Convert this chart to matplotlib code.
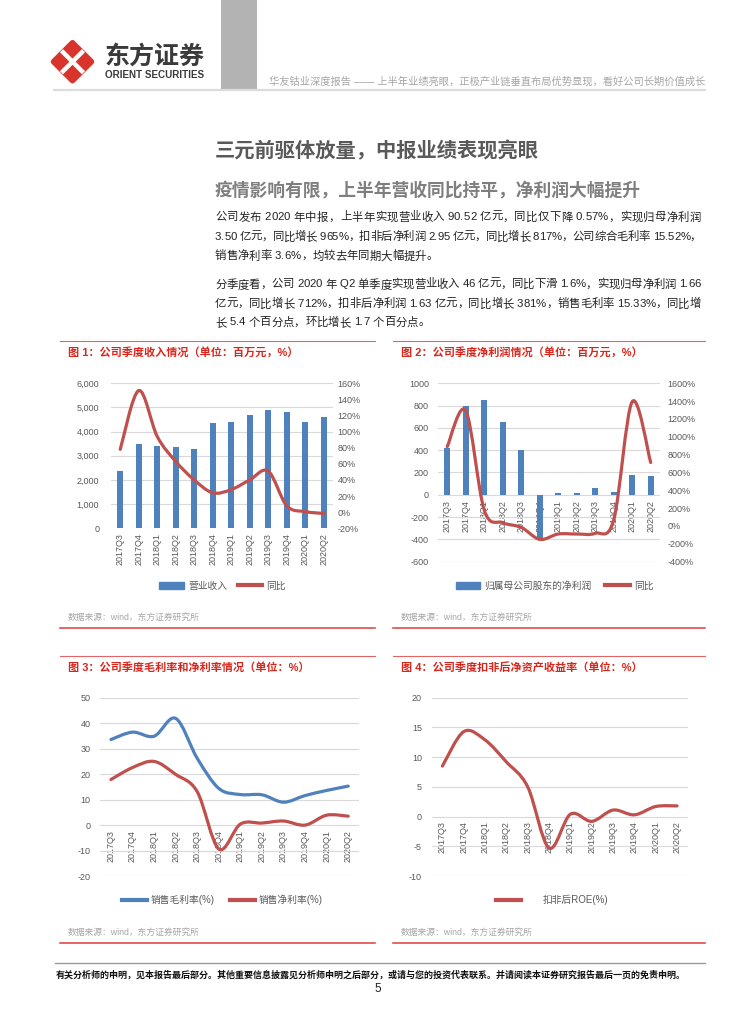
import matplotlib
matplotlib.use("Agg")
import matplotlib.pyplot as plt
from matplotlib.path import Path
from matplotlib.patches import PathPatch, Polygon, Rectangle, Patch
from matplotlib.lines import Line2D
from matplotlib.ticker import FuncFormatter

plt.rcParams['font.family'] = ['Liberation Sans', 'Noto Sans CJK SC', 'DejaVu Sans']
plt.rcParams['axes.unicode_minus'] = False

# ---- data ----
quarters = ['2017Q3', '2017Q4', '2018Q1', '2018Q2', '2018Q3', '2018Q4',
            '2019Q1', '2019Q2', '2019Q3', '2019Q4', '2020Q1', '2020Q2']

revenue = [2350, 3500, 3420, 3350, 3290, 4360, 4390, 4690, 4900, 4810, 4410, 4610]
revenue_yoy = [78, 151, 94, 63, 40, 24, 28, 40, 51, 8, 0.7, -1.6]

net_profit = [423, 797, 849, 657, 402, -406, 13, 19, 58, 28, 181, 166]
net_profit_yoy = [890, 1293, 179, 37, -15, -150, -90, -90, -82, 67, 1394, 712]

gross_margin = [33.6, 36.5, 34.9, 41.9, 26.2, 14.4, 12.0, 11.9, 9.0, 11.6, 13.6, 15.3]
net_margin = [17.9, 22.6, 25.0, 19.9, 13.1, -9.4, 0.4, 0.8, 1.6, 0.0, 3.9, 3.5]

roe = [8.5, 14.3, 12.9, 9.2, 5.0, -5.3, 0.4, -0.8, 1.1, 0.3, 1.7, 1.8]

BLUE = '#4f81bd'
RED = '#c0504d'
TITLE_RED = '#d9261c'
TICK = '#595959'
GRID = '#d9d9d9'

fig = plt.figure(figsize=(7.55, 10.24), dpi=100)
renderer = fig.canvas.get_renderer()

# page overlay in pixel coords
page = fig.add_axes([0, 0, 1, 1], zorder=-5)
page.set_xlim(0, 755)
page.set_ylim(1024, 0)
page.axis('off')


def smooth_path(xs, ys):
    # Excel-like smoothed line: Catmull-Rom segments as cubic Bezier
    n = len(xs)
    verts = [(xs[0], ys[0])]
    codes = [Path.MOVETO]
    for i in range(n - 1):
        a = i - 1 if i > 0 else i
        d = i + 2 if i + 2 < n else i + 1
        c1 = (xs[i] + (xs[i + 1] - xs[a]) / 6, ys[i] + (ys[i + 1] - ys[a]) / 6)
        c2 = (xs[i + 1] - (xs[d] - xs[i]) / 6, ys[i + 1] - (ys[d] - ys[i]) / 6)
        verts += [c1, c2, (xs[i + 1], ys[i + 1])]
        codes += [Path.CURVE4] * 3
    return Path(verts, codes)


def curve(ax, ys, color):
    xs = list(range(len(ys)))
    ax.add_patch(PathPatch(smooth_path(xs, ys), fill=False, edgecolor=color,
                           lw=2.3, capstyle='round', joinstyle='round', zorder=4))


def style(ax, at_zero=False, lpad=7):
    for s in ax.spines.values():
        s.set_visible(False)
    if at_zero:
        ax.spines['bottom'].set_position(('data', 0))
    ax.tick_params(length=0, labelsize=6.5, colors=TICK)
    ax.tick_params(axis='y', pad=lpad)
    ax.tick_params(axis='x', pad=3.6)
    ax.grid(axis='y', color=GRID, lw=0.8)
    ax.set_axisbelow(True)
    ax.set_xlim(-0.5, len(quarters) - 0.5)
    ax.set_xticks(range(len(quarters)))
    ax.set_xticklabels(quarters, rotation=90)


def right_axis(ax, pad):
    axr = ax.twinx()
    for s in axr.spines.values():
        s.set_visible(False)
    axr.tick_params(length=0, labelsize=6.5, colors=TICK, pad=pad)
    axr.yaxis.set_major_formatter(FuncFormatter(lambda v, p: f'{v:.0f}%'))
    return axr


probe = page.text(0, 0, '', fontsize=8.2)


def text_w(s):
    probe.set_text(s + '|')
    w = probe.get_window_extent(renderer).width
    probe.set_text('|')
    return w - probe.get_window_extent(renderer).width


def justified(x0, x1, y, line, justify=True, **kw):
    pos = [text_w(line[:k]) for k in range(len(line))]
    full = text_w(line)
    scale = (x1 - x0) / full if justify else 1.0
    for ch, p in zip(line, pos):
        if ch != ' ':
            page.text(x0 + p * scale, y, ch, ha='left', va='center', **kw)


# ---- header ----
cx, cy, r = 72.5, 61.7, 19
page.add_patch(Polygon([(cx - r, cy), (cx, cy - r), (cx + r, cy), (cx, cy + r)],
                       closed=True, fc='#d9342b', ec='#d9342b', lw=4, joinstyle='round'))
page.plot([cx - 11, cx + 11], [cy - 11, cy + 11], color='white', lw=3.2, solid_capstyle='butt')
page.plot([cx - 11, cx + 11], [cy + 11, cy - 11], color='white', lw=3.2, solid_capstyle='butt')
page.text(105, 57, '东方证券', fontsize=18, fontweight='bold', color='#3a3a3a',
          va='center', ha='left', family=['Noto Sans CJK SC'])
page.text(105, 75.5, 'ORIENT SECURITIES', fontsize=7.1, fontweight='bold', color='#3a3a3a',
          va='center', ha='left')
page.add_patch(Rectangle((221, 0), 36, 90, fc='#b3b3b3', ec='none'))
page.plot([54, 705], [90, 90], color='#dcdcdc', lw=1.6)
page.text(705, 81, '华友钴业深度报告 —— 上半年业绩亮眼，正极产业链垂直布局优势显现，看好公司长期价值成长',
          fontsize=7.4, color='#a6a6a6', ha='right', va='center')

# ---- headings and body ----
page.text(215, 150.7, '三元前驱体放量，中报业绩表现亮眼', fontsize=14.6, fontweight='bold',
          color='#595959', ha='left', va='center')
page.text(215, 191, '疫情影响有限，上半年营收同比持平，净利润大幅提升', fontsize=12.8,
          fontweight='bold', color='#7f7f7f', ha='left', va='center')

body = [
    (217.3, '公司发布 2020 年中报，上半年实现营业收入 90.52 亿元，同比仅下降 0.57%，实现归母净利润', True),
    (236.7, '3.50 亿元，同比增长 965%，扣非后净利润 2.95 亿元，同比增长 817%，公司综合毛利率 15.52%，', True),
    (256.0, '销售净利率 3.6%，均较去年同期大幅提升。', False),
    (284.3, '分季度看，公司 2020 年 Q2 单季度实现营业收入 46 亿元，同比下滑 1.6%，实现归母净利润 1.66', True),
    (303.7, '亿元，同比增长 712%，扣非后净利润 1.63 亿元，同比增长 381%，销售毛利率 15.33%，同比增', True),
    (322.3, '长 5.4 个百分点，环比增长 1.7 个百分点。', False),
]
for y, line, just in body:
    justified(215, 701, y, line, justify=just, fontsize=8.2, color='#222222')

# ---- panel frames, titles, sources ----
panels = [
    (60, 375, 341, 628.3, '图 1：公司季度收入情况（单位：百万元，%）'),
    (393, 705, 341, 628.3, '图 2：公司季度净利润情况（单位：百万元，%）'),
    (60, 375, 656, 942.7, '图 3：公司季度毛利率和净利率情况（单位：%）'),
    (393, 705, 656, 942.7, '图 4：公司季度扣非后净资产收益率（单位：%）'),
]
for x0, x1, yt, yb, title in panels:
    page.plot([x0, x1], [yt, yt], color='#e06666', lw=0.8)
    page.plot([x0, x1], [yb, yb], color='#e03c3c', lw=1.1)
    page.text(x0 + 8, yt + 11.5, title, fontsize=8, fontweight='bold', color=TITLE_RED,
              ha='left', va='center')
    page.text(x0 + 8, yb - 10.5, '数据来源：wind，东方证券研究所', fontsize=6.3,
              color='#a6a6a6', ha='left', va='center')

# ---- footer ----
page.plot([55, 705], [962.7, 962.7], color='#999999', lw=1)
page.text(56, 975, '有关分析师的申明，见本报告最后部分。其他重要信息披露见分析师申明之后部分，'
          '或请与您的投资代表联系。并请阅读本证券研究报告最后一页的免责申明。',
          fontsize=6.5, fontweight='bold', color='#111111', ha='left', va='center')
page.text(378, 989, '5', fontsize=8.5, color='#222222', ha='center', va='center')

x = list(range(len(quarters)))

# ---- chart 1 ----
ax1 = fig.add_axes([0.1470, 0.4841, 0.2940, 0.1416])
style(ax1, lpad=8.5)
ax1.bar(x, revenue, width=0.33, color=BLUE, zorder=2)
ax1.set_ylim(0, 6000)
ax1.set_yticks(range(0, 6001, 1000))
ax1.yaxis.set_major_formatter(FuncFormatter(lambda v, p: f'{v:,.0f}'))
ax1b = right_axis(ax1, 3.4)
ax1b.set_ylim(-20, 160)
ax1b.set_yticks(range(-20, 161, 20))
curve(ax1b, revenue_yoy, RED)
fig.legend([Patch(color=BLUE), Line2D([], [], color=RED, lw=3)], ['营业收入', '同比'],
           loc='center', bbox_to_anchor=(0.2947, 0.428), ncol=2, frameon=False,
           fontsize=7, handlelength=2.55, handletextpad=0.4, columnspacing=1.1,
           labelcolor=TICK)

# ---- chart 2 ----
ax2 = fig.add_axes([0.5801, 0.4515, 0.2940, 0.1742])
style(ax2, at_zero=True, lpad=6.5)
ax2.bar(x, net_profit, width=0.33, color=BLUE, zorder=2)
ax2.set_ylim(-600, 1000)
ax2.set_yticks(range(-600, 1001, 200))
ax2b = right_axis(ax2, 5.5)
ax2b.set_ylim(-400, 1600)
ax2b.set_yticks(range(-400, 1601, 200))
curve(ax2b, net_profit_yoy, RED)
fig.legend([Patch(color=BLUE), Line2D([], [], color=RED, lw=3)], ['归属母公司股东的净利润', '同比'],
           loc='center', bbox_to_anchor=(0.7344, 0.428), ncol=2, frameon=False,
           fontsize=7, handlelength=2.55, handletextpad=0.4, columnspacing=1.4,
           labelcolor=TICK)

# ---- chart 3 ----
ax3 = fig.add_axes([0.1327, 0.1445, 0.3428, 0.1741])
style(ax3, at_zero=True, lpad=7)
ax3.set_ylim(-20, 50)
ax3.set_yticks(range(-20, 51, 10))
curve(ax3, gross_margin, BLUE)
curve(ax3, net_margin, RED)
fig.legend([Line2D([], [], color=BLUE, lw=3), Line2D([], [], color=RED, lw=3)],
           ['销售毛利率(%)', '销售净利率(%)'],
           loc='center', bbox_to_anchor=(0.2946, 0.1211), ncol=2, frameon=False,
           fontsize=7, handlelength=2.6, handletextpad=0.4, columnspacing=1.5,
           labelcolor=TICK)

# ---- chart 4 ----
ax4 = fig.add_axes([0.5718, 0.1445, 0.3391, 0.1741])
style(ax4, at_zero=True, lpad=7)
ax4.set_ylim(-10, 20)
ax4.set_yticks(range(-10, 21, 5))
curve(ax4, roe, RED)
fig.legend([Line2D([], [], color=RED, lw=3)], ['扣非后ROE(%)'],
           loc='center', bbox_to_anchor=(0.731, 0.1211), ncol=1, frameon=False,
           fontsize=7, handlelength=2.6, handletextpad=2.2, labelcolor=TICK)

probe.remove()
fig.savefig('out.png', dpi=100)
